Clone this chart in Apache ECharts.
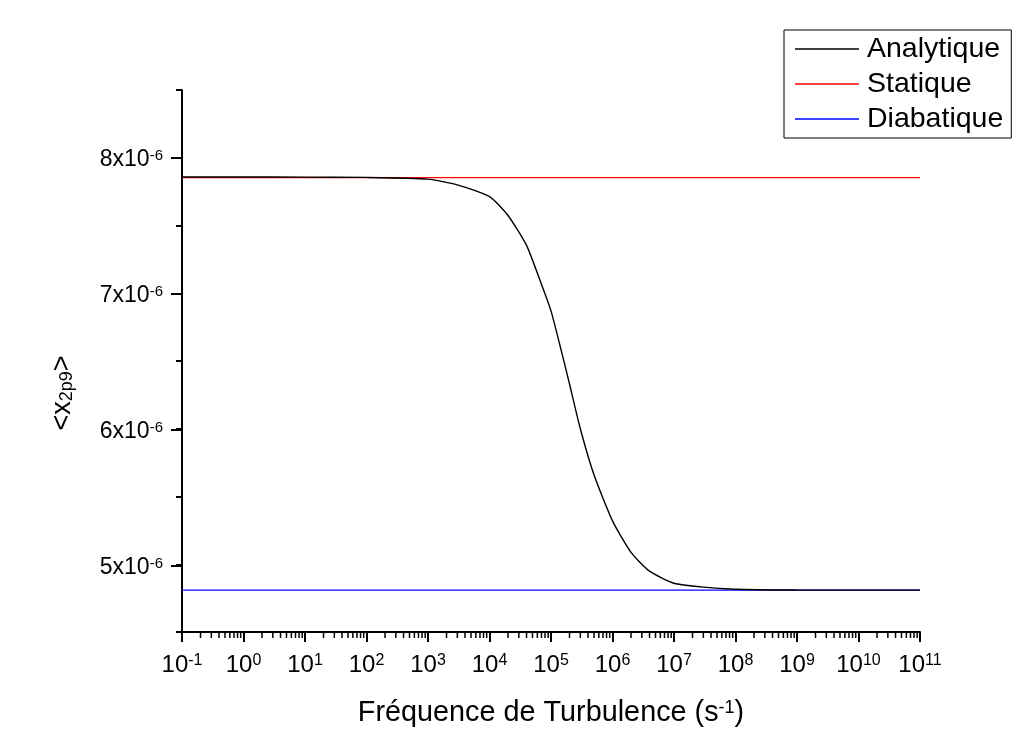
<!DOCTYPE html>
<html>
<head>
<meta charset="utf-8">
<script src="https://cdn.jsdelivr.net/npm/echarts@6/dist/echarts.min.js"></script>
<style>
  html, body { margin: 0; padding: 0; background: #fff; }
  #chart { width: 1024px; height: 733px; }
</style>
</head>
<body>
<div id="chart"></div>
<script>
// frequencies (s^-1) and <x_2p9> values in units of 1e-6
const freqAnalytique = [0.1, 1, 10, 100, 1000, 3000, 1e4, 2e4, 4e4, 7e4, 1e5, 1.5e5, 2e5, 3e5, 5e5,
  1e6, 2e6, 4e6, 1e7, 3e7, 1e8, 1e9, 1e10, 1e11];
const analytique = [7.858, 7.858, 7.857, 7.855, 7.842, 7.80, 7.713, 7.574, 7.353, 7.066, 6.87, 6.56, 6.33, 6.00, 5.66,
  5.32, 5.088, 4.949, 4.860, 4.831, 4.816, 4.810, 4.809, 4.809];
const freqStatique = [0.1, 1e11];
const statique = [7.853, 7.853];
const freqDiabatique = [0.1, 1e11];
const diabatique = [4.809, 4.809];
const yTickLabels = ['5', '6', '7', '8'];
const seriesNames = ['Analytique', 'Statique', 'Diabatique'];

const FONT = 'Liberation Sans, Arial, sans-serif';

// log minor ticks 2..9 in each decade
const minorTicks = [];
for (let k = -1; k < 11; k++) {
  for (let m = 2; m < 10; m++) {
    minorTicks.push([m * Math.pow(10, k), 4.5]);
  }
}

const zip = (xs, ys) => xs.map((x, i) => [x, ys[i]]);

const chart = echarts.init(document.getElementById('chart'));

const option = {
  animation: false,
  textStyle: {fontFamily: FONT},
  grid: [
    {left: 182, right: 104, top: 90, bottom: 99},
    {left: 182, right: 104, top: 158, bottom: 167}
  ],
  legend: {
    orient: 'vertical',
    left: 784,
    top: 30,
    padding: [4, 8, 4, 11],
    itemGap: 5,
    itemWidth: 64,
    itemHeight: 1.5,
    icon: 'rect',
    borderColor: '#000',
    borderWidth: 1,
    borderRadius: 0,
    data: seriesNames,
    textStyle: {fontSize: 28.5, color: '#000', fontFamily: FONT, lineHeight: 30, padding: [0, 0, 0, 3]}
  },
  xAxis: [{
    type: 'log',
    logBase: 10,
    min: 0.1,
    max: 1e11,
    interval: 1,
    gridIndex: 0,
    axisLine: {lineStyle: {color: '#000', width: 2}},
    axisTick: {inside: false, length: 10, lineStyle: {color: '#000', width: 2}},
    minorTick: {show: false},
    splitLine: {show: false},
    axisLabel: {
      margin: 21,
      showMinLabel: true,
      showMaxLabel: true,
      formatter: v => '10{sup|' + Math.round(Math.log10(v)) + '}',
      rich: {
        sup: {fontSize: 16, verticalAlign: 'top', color: '#000', fontFamily: FONT}
      },
      color: '#000',
      fontSize: 24,
      fontFamily: FONT
    },
    name: 'Fréquence de Turbulence (s{sup|-1})',
    nameLocation: 'middle',
    nameGap: 67,
    nameTextStyle: {
      fontSize: 28.8, color: '#000', fontFamily: FONT,
      rich: {sup: {fontSize: 18, verticalAlign: 'top', color: '#000', fontFamily: FONT}}
    }
  }, {
    type: 'value',
    gridIndex: 1,
    show: false
  }],
  yAxis: [{
    type: 'value',
    min: 4.5,
    max: 8.5,
    interval: 0.5,
    gridIndex: 0,
    axisLine: {show: true, lineStyle: {color: '#000', width: 2}},
    axisTick: {show: true, inside: false, length: 6, lineStyle: {color: '#000', width: 2}},
    axisLabel: {show: false},
    splitLine: {show: false}
  }, {
    type: 'category',
    gridIndex: 1,
    boundaryGap: false,
    data: yTickLabels,
    axisLine: {show: false},
    axisTick: {show: true, inside: false, length: 11, lineStyle: {color: '#000', width: 2}},
    splitLine: {show: false},
    axisLabel: {
      margin: 19,
      padding: [4, 0, 0, 0],
      formatter: v => v + 'x10{sup|-6}',
      rich: {
        sup: {fontSize: 15, verticalAlign: 'top', color: '#000', fontFamily: FONT}
      },
      color: '#000',
      fontSize: 23,
      fontFamily: FONT
    }
  }],
  graphic: [{
    type: 'text',
    x: 63,
    y: 393,
    rotation: Math.PI / 2,
    style: {
      text: '{m|<x}{sub|2p9}{m|>}',
      fontFamily: FONT,
      fill: '#000',
      align: 'center',
      verticalAlign: 'middle',
      rich: {
        m: {fontSize: 27, lineHeight: 27, fontFamily: FONT, fill: '#000', verticalAlign: 'top'},
        sub: {fontSize: 18, lineHeight: 16, fontFamily: FONT, fill: '#000', verticalAlign: 'bottom', padding: [24, 0, 0, 0]}
      }
    }
  }],
  series: [{
    name: 'Analytique',
    type: 'line',
    data: zip(freqAnalytique, analytique),
    showSymbol: false,
    smooth: 0.2,
    color: '#000',
    lineStyle: {width: 1.4, color: '#000'},
    z: 3
  }, {
    name: 'Statique',
    type: 'line',
    data: zip(freqStatique, statique),
    showSymbol: false,
    color: '#ff0000',
    lineStyle: {width: 1.2, color: '#ff0000'},
    z: 2
  }, {
    name: 'Diabatique',
    type: 'line',
    data: zip(freqDiabatique, diabatique),
    showSymbol: false,
    color: '#0000ff',
    lineStyle: {width: 1.2, color: '#0000ff'},
    z: 2
  }, {
    name: 'minorTicks',
    type: 'custom',
    silent: true,
    clip: false,
    data: minorTicks,
    renderItem: (params, api) => {
      const p = api.coord([api.value(0), api.value(1)]);
      return {
        type: 'line',
        shape: {x1: p[0], y1: p[1], x2: p[0], y2: p[1] + 6},
        style: {stroke: '#000', lineWidth: 1.5}
      };
    }
  }]
};

chart.setOption(option);
</script>
</body>
</html>
